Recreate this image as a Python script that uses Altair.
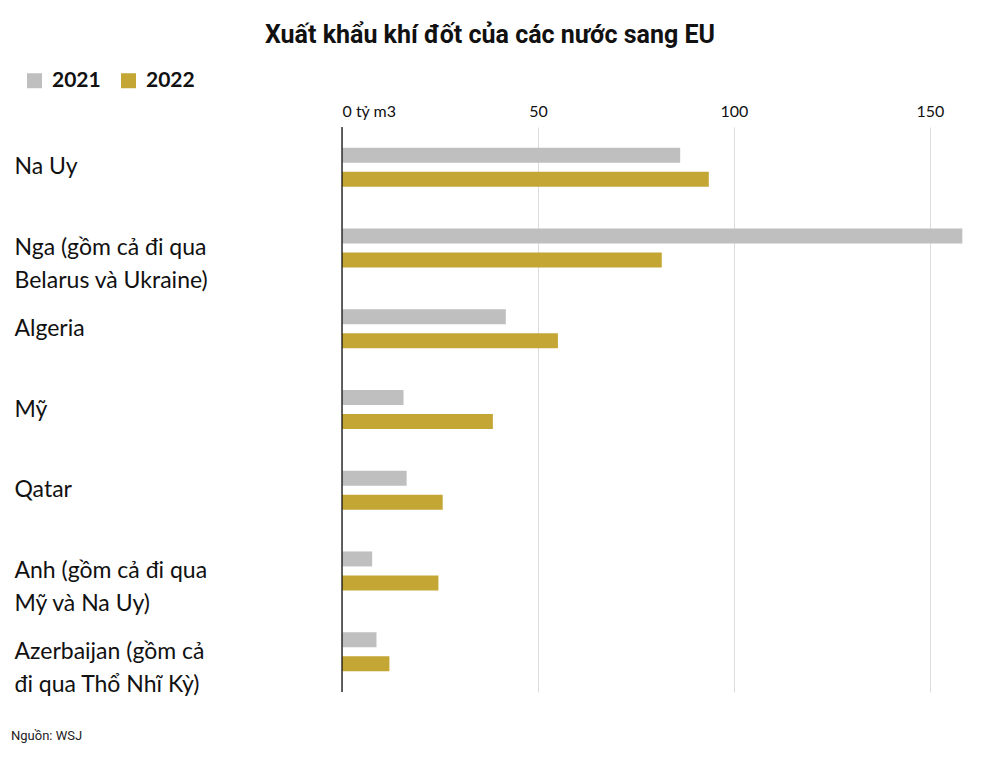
import altair as alt
import pandas as pd

countries = [
    "Na Uy",
    "Nga (gồm cả đi qua|Belarus và Ukraine)",
    "Algeria",
    "Mỹ",
    "Qatar",
    "Anh (gồm cả đi qua|Mỹ và Na Uy)",
    "Azerbaijan (gồm cả|đi qua Thổ Nhĩ Kỳ)",
]
years = ["2021", "2022"]
values_2021 = [86.3, 158.3, 41.8, 15.7, 16.5, 7.7, 8.8]
values_2022 = [93.6, 81.6, 55.1, 38.5, 25.7, 24.6, 12.1]
x_ticks = [0, 50, 100, 150]
colors = ["#bfbfbf", "#c4a634"]

rows = []
for c, a, b in zip(countries, values_2021, values_2022):
    rows.append({"country": c, "year": "2021", "value": a})
    rows.append({"country": c, "year": "2022", "value": b})
df = pd.DataFrame(rows)

LABEL_FONT = "Lato"
TITLE_FONT = "Roboto"

bars = alt.Chart(df).mark_bar().encode(
    x=alt.X(
        "value:Q",
        scale=alt.Scale(domain=[0, 160], nice=False),
        axis=alt.Axis(
            orient="top",
            values=x_ticks,
            domain=False,
            ticks=False,
            title=None,
            labelFontSize=16,
            labelFont=LABEL_FONT,
            labelColor="#111",
            labelPadding=8,
            labelExpr="datum.value == 0 ? '0 tỷ m3' : datum.label",
            gridColor="#dcdcdc",
            gridWidth=1,
        ),
    ),
    y=alt.Y(
        "country:N",
        sort=countries,
        scale=alt.Scale(paddingInner=0.517, paddingOuter=0.2585),
        axis=alt.Axis(
            title=None,
            domain=False,
            ticks=False,
            grid=False,
            labelAlign="left",
            labelPadding=328,
            labelFontSize=23,
            labelFont=LABEL_FONT,
            labelColor="#111",
            labelLimit=400,
            labelLineHeight=33,
            labelBaseline="middle",
            labelExpr="split(datum.label, '|')",
        ),
    ),
    yOffset=alt.YOffset(
        "year:N", sort=years, scale=alt.Scale(paddingInner=0.375, paddingOuter=0)
    ),
    color=alt.Color(
        "year:N",
        sort=years,
        scale=alt.Scale(domain=years, range=colors),
        legend=alt.Legend(
            title=None,
            orient="none",
            legendX=-318,
            legendY=-57,
            direction="horizontal",
            symbolType="square",
            symbolSize=225,
            symbolStrokeWidth=0,
            symbolOpacity=1,
            labelFontSize=21,
            labelFont=LABEL_FONT,
            labelFontWeight="bold",
            labelColor="#111",
            labelOffset=7,
            columnPadding=17,
        ),
    ),
)

zero = alt.Chart(pd.DataFrame({"x": [0]})).mark_rule(color="#111", strokeWidth=1.3).encode(
    x="x:Q"
)

source = alt.Chart(pd.DataFrame({"t": ["Nguồn: WSJ"]})).mark_text(
    align="left", baseline="middle", fontSize=13, font=TITLE_FONT, color="#222"
).encode(x=alt.value(-331), y=alt.value(609), text="t:N")

chart = alt.layer(bars, zero, source).properties(
    width=627,
    height=565,
    padding={"left": 3, "top": 15, "right": 5, "bottom": 5},
    title=alt.TitleParams(
        "Xuất khẩu khí đốt của các nước sang EU",
        fontSize=25,
        font=TITLE_FONT,
        fontWeight="bold",
        color="#111",
        anchor="middle",
        frame="bounds",
        offset=22,
    ),
).configure_view(stroke=None)

chart.save("out.html", embed_options={"renderer": "svg", "actions": False})
